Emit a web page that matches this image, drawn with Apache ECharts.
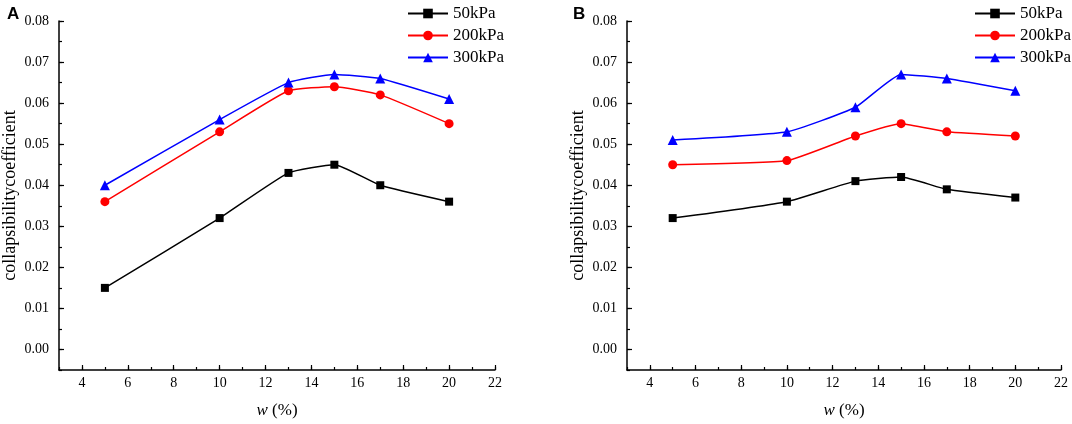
<!DOCTYPE html>
<html>
<head>
<meta charset="utf-8">
<script src="https://cdn.jsdelivr.net/npm/echarts@6/dist/echarts.min.js"></script>
<style>
  html, body { margin: 0; padding: 0; background: #fff; }
  #main { width: 1072px; height: 424px; }
</style>
</head>
<body>
<div id="main"></div>
<script>
// water content w (%)
var wValues = [5, 10, 13, 15, 17, 20];
var seriesNames = ['50kPa', '200kPa', '300kPa'];

// panel A
var a50 = [0.015, 0.032, 0.043, 0.045, 0.040, 0.036];
var a200 = [0.036, 0.053, 0.063, 0.064, 0.062, 0.055];
var a300 = [0.040, 0.056, 0.065, 0.067, 0.066, 0.061];

// panel B
var b50 = [0.032, 0.036, 0.041, 0.042, 0.039, 0.037];
var b200 = [0.045, 0.046, 0.052, 0.055, 0.053, 0.052];
var b300 = [0.051, 0.053, 0.059, 0.067, 0.066, 0.063];

var serif = 'Liberation Serif';
var colors = ['#000000', '#ff0000', '#0000ff'];
var symbols = ['rect', 'circle', 'triangle'];
var symbolSizes = [8, 9, 10];

var myChart = echarts.init(document.getElementById('main'));

function pairs(ys) {
  return wValues.map(function (w, i) { return [w, ys[i]]; });
}

function makeSeries(data, idx, gridIdx) {
  return {
    name: seriesNames[idx],
    type: 'line',
    xAxisIndex: gridIdx * 2,
    yAxisIndex: gridIdx * 2,
    data: pairs(data),
    smooth: 0.15,
    symbol: symbols[idx],
    symbolSize: symbolSizes[idx],
    itemStyle: { color: colors[idx] },
    lineStyle: { color: colors[idx], width: 1.5 },
    emphasis: { disabled: true }
  };
}

// main x axis (labels + long ticks) and a second one for the short odd ticks
function xAxes(gridIdx) {
  return [{
    type: 'value',
    gridIndex: gridIdx,
    position: 'bottom',
    min: 3,
    max: 22,
    splitNumber: 9,
    name: '{i|w} (%)',
    nameLocation: 'middle',
    nameGap: 32,
    nameTextStyle: {
      fontFamily: serif, fontSize: 17, color: '#000',
      rich: { i: { fontFamily: serif, fontSize: 17, fontStyle: 'italic', color: '#000' } }
    },
    axisLine: { show: true, onZero: false, lineStyle: { color: '#000', width: 1.5 } },
    axisTick: { show: true, inside: true, length: 5, lineStyle: { color: '#000', width: 1.2 } },
    axisLabel: { showMinLabel: false, margin: 6, fontFamily: serif, fontSize: 14, color: '#000' },
    splitLine: { show: false }
  }, {
    type: 'value',
    gridIndex: gridIdx,
    position: 'bottom',
    min: 3,
    max: 22,
    interval: 1,
    axisLine: { show: false, onZero: false },
    axisTick: { show: true, inside: true, length: 3, lineStyle: { color: '#000', width: 1.2 } },
    axisLabel: { show: false },
    splitLine: { show: false }
  }];
}

function yAxes(gridIdx) {
  return [{
    type: 'value',
    gridIndex: gridIdx,
    position: 'left',
    min: -0.005,
    max: 0.08,
    splitNumber: 8,
    name: 'collapsibilitycoefficient',
    nameLocation: 'middle',
    nameGap: 40,
    nameTextStyle: { fontFamily: serif, fontSize: 18, color: '#000' },
    axisLine: { show: true, onZero: false, lineStyle: { color: '#000', width: 1.5 } },
    axisTick: { show: true, inside: true, length: 5, lineStyle: { color: '#000', width: 1.2 } },
    axisLabel: {
      showMinLabel: false, margin: 10, fontFamily: serif, fontSize: 14, color: '#000',
      formatter: function (v) { return v.toFixed(2); }
    },
    splitLine: { show: false }
  }, {
    type: 'value',
    gridIndex: gridIdx,
    position: 'left',
    min: -0.005,
    max: 0.08,
    interval: 0.005,
    axisLine: { show: false, onZero: false },
    axisTick: { show: true, inside: true, length: 3, lineStyle: { color: '#000', width: 1.2 } },
    axisLabel: { show: false },
    splitLine: { show: false }
  }];
}

function legend(left) {
  return {
    data: seriesNames,
    orient: 'vertical',
    left: left,
    top: 0,
    itemWidth: 40,
    itemHeight: 12,
    itemGap: 5,
    textStyle: { fontFamily: serif, fontSize: 17, color: '#000' },
    selectedMode: false
  };
}

var option = {
  animation: false,
  backgroundColor: '#fff',
  title: [
    { text: 'A', left: 2, top: 1, textStyle: { fontFamily: 'Liberation Sans', fontSize: 17, fontWeight: 'bold', color: '#000' } },
    { text: 'B', left: 568, top: 1, textStyle: { fontFamily: 'Liberation Sans', fontSize: 17, fontWeight: 'bold', color: '#000' } }
  ],
  legend: [legend(402), legend(969)],
  grid: [
    { left: 59, top: 21, width: 436, height: 349 },
    { left: 627, top: 21, width: 434, height: 349 }
  ],
  xAxis: xAxes(0).concat(xAxes(1)),
  yAxis: yAxes(0).concat(yAxes(1)),
  series: [
    makeSeries(a50, 0, 0),
    makeSeries(a200, 1, 0),
    makeSeries(a300, 2, 0),
    makeSeries(b50, 0, 1),
    makeSeries(b200, 1, 1),
    makeSeries(b300, 2, 1)
  ]
};

myChart.setOption(option);
</script>
</body>
</html>
